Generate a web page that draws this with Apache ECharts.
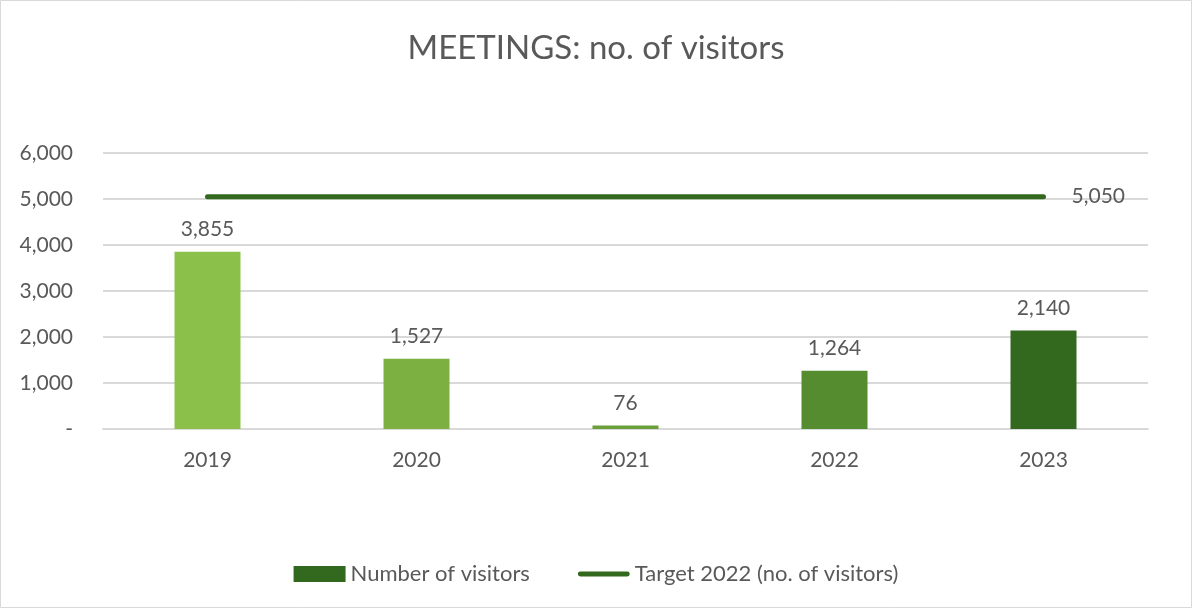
<!DOCTYPE html>
<html><head><meta charset="utf-8">
<script src="https://cdn.jsdelivr.net/npm/echarts@6/dist/echarts.min.js"></script>
<style>html,body{margin:0;padding:0;background:#fff}#c{width:1192px;height:608px}</style>
</head><body><div id="c"></div>
<script>
const categories = ['2019','2020','2021','2022','2023'];
const visitors = [3855, 1527, 76, 1264, 2140];
const target = [5050, 5050, 5050, 5050, 5050];
const barColors = ['#8bc14a','#7cb142','#6a9f3a','#548c2f','#33691e'];
const yTicks = [0, 1000, 2000, 3000, 4000, 5000, 6000];

const fmt = v => v === 0 ? '-' : v.toLocaleString('en-US');
const FONT = 'Lato, "Open Sans", sans-serif';
const LINE_ICON = 'path://M0,0h0.05v0.05h-0.05z M0,16h0.05v0.05h-0.05z M2.5,5.5 H49.5 A2.5,2.5 0 0 1 49.5,10.5 H2.5 A2.5,2.5 0 0 1 2.5,5.5 Z';
const chart = echarts.init(document.getElementById('c'));
chart.setOption({
  backgroundColor: '#fff',
  animation: false,
  textStyle: { fontFamily: FONT },
  graphic: [{ type: 'rect', shape: { x: 0.5, y: 0.5, width: 1191, height: 607 }, style: { fill: 'none', stroke: '#d9d9d9', lineWidth: 1 }, silent: true }],
  title: { text: 'MEETINGS: no. of visitors', left: 'center', top: 27, textStyle: { fontFamily: FONT, fontSize: 33, fontWeight: 'normal', color: '#595959' } },
  grid: { left: 103, right: 44, top: 153, bottom: 179 },
  legend: {
    top: 558, left: 'center', itemGap: 48, itemWidth: 52, itemHeight: 16,
    textStyle: { fontFamily: FONT, fontSize: 22, color: '#595959' },
    data: [
      { name: 'Number of visitors', icon: 'rect', itemStyle: { color: '#33691e' } },
      { name: 'Target 2022 (no. of visitors)', icon: LINE_ICON, itemStyle: { color: '#33691e', borderWidth: 0 } }
    ]
  },
  xAxis: {
    type: 'category', data: categories,
    axisLine: { lineStyle: { color: '#d9d9d9', width: 2 } }, axisTick: { show: false },
    axisLabel: { fontFamily: FONT, fontSize: 21, color: '#595959', margin: 21 }
  },
  yAxis: {
    type: 'value', min: yTicks[0], max: yTicks[yTicks.length - 1], interval: 1000,
    axisLine: { show: false }, axisTick: { show: false },
    splitLine: { lineStyle: { color: '#d9d9d9', width: 2 } },
    axisLabel: { fontFamily: FONT, fontSize: 21, color: '#595959', margin: 30, formatter: fmt }
  },
  series: [
    {
      name: 'Number of visitors', type: 'bar', barWidth: 66,
      data: visitors.map((v, i) => ({ value: v, itemStyle: { color: barColors[i] } })),
      itemStyle: { color: '#33691e' },
      label: { show: true, position: 'top', distance: 12, fontFamily: FONT, fontSize: 21, color: '#595959', formatter: p => fmt(p.value) }
    },
    {
      name: 'Target 2022 (no. of visitors)', type: 'line', data: target, symbol: 'none', showSymbol: false,
      lineStyle: { color: '#33691e', width: 5, cap: 'round' }, itemStyle: { color: '#33691e' },
      endLabel: { show: true, distance: 28, fontFamily: FONT, fontSize: 21, color: '#595959', formatter: p => fmt(p.value) }
    }
  ]
});
</script></body></html>
